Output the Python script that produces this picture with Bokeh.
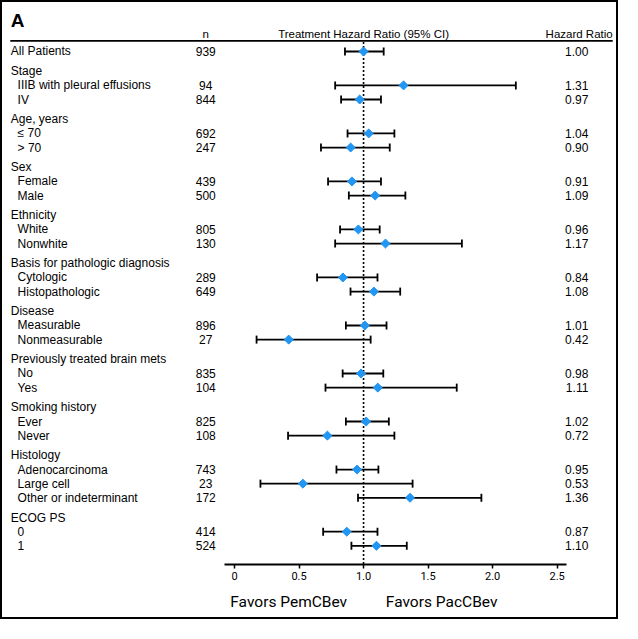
from bokeh.plotting import figure
from bokeh.models import Range1d, LinearAxis, FixedTicker, ColumnDataSource, Whisker, TeeHead
from bokeh.core.properties import value
from bokeh.embed import file_html
from bokeh.resources import INLINE

# ---------------- data ----------------
row_labels = ["All Patients",
              "Stage", "IIIB with pleural effusions", "IV",
              "Age, years", "\u2264 70", "> 70",
              "Sex", "Female", "Male",
              "Ethnicity", "White", "Nonwhite",
              "Basis for pathologic diagnosis", "Cytologic", "Histopathologic",
              "Disease", "Measurable", "Nonmeasurable",
              "Previously treated brain mets", "No", "Yes",
              "Smoking history", "Ever", "Never",
              "Histology", "Adenocarcinoma", "Large cell", "Other or indeterminant",
              "ECOG PS", "0", "1"]
row_is_header = [False,
                 True, False, False,
                 True, False, False,
                 True, False, False,
                 True, False, False,
                 True, False, False,
                 True, False, False,
                 True, False, False,
                 True, False, False,
                 True, False, False, False,
                 True, False, False]
row_n = [939,
         None, 94, 844,
         None, 692, 247,
         None, 439, 500,
         None, 805, 130,
         None, 289, 649,
         None, 896, 27,
         None, 835, 104,
         None, 825, 108,
         None, 743, 23, 172,
         None, 414, 524]
row_hr = [1.00,
          None, 1.31, 0.97,
          None, 1.04, 0.90,
          None, 0.91, 1.09,
          None, 0.96, 1.17,
          None, 0.84, 1.08,
          None, 1.01, 0.42,
          None, 0.98, 1.11,
          None, 1.02, 0.72,
          None, 0.95, 0.53, 1.36,
          None, 0.87, 1.10]
row_lo = [0.856,
          None, 0.78, 0.826,
          None, 0.876, 0.67,
          None, 0.725, 0.886,
          None, 0.818, 0.78,
          None, 0.64, 0.899,
          None, 0.863, 0.171,
          None, 0.838, 0.705,
          None, 0.863, 0.415,
          None, 0.79, 0.201, 0.957,
          None, 0.687, 0.906]
row_hi = [1.156,
          None, 2.18, 1.135,
          None, 1.239, 1.203,
          None, 1.135, 1.324,
          None, 1.125, 1.762,
          None, 1.108, 1.284,
          None, 1.178, 1.055,
          None, 1.153, 1.722,
          None, 1.196, 1.239,
          None, 1.115, 1.38, 1.913,
          None, 1.108, 1.335]
tick_values = [0, 0.5, 1.0, 1.5, 2.0, 2.5]
tick_labels = ["0", "0.5", "1.0", "1.5", "2.0", "2.5"]
favor_positions = [0.42, 1.605]
favor_labels = ["Favors PemCBev", "Favors PacCBev"]
header_n = "n"
header_ci = "Treatment Hazard Ratio (95% CI)"
header_hr = "Hazard Ratio"
panel_letter = "A"

# ---------------- layout ----------------
W, H = 618, 619
REF_W, REF_H = 634, 635
KX = W / REF_W
REF_ZERO, REF_UNIT = 240.0, 132.4          # reference pixel of HR=0 and px per unit
PXU = REF_UNIT * KX
X0 = -((REF_ZERO - 2) * KX) / PXU
X1 = X0 + W / PXU


def xr(ref_px):
    return X0 + ((ref_px - 2) * KX) / PXU


FIRST_Y, ROW_GAP, HEAD_GAP = 52.3, 14.5, 20.3
ys = []
y = FIRST_Y
for i, hdr in enumerate(row_is_header):
    if i > 0:
        y += HEAD_GAP if hdr else ROW_GAP
    ys.append(y)

AXIS_REF_Y = 579.0
FONT = "Liberation Sans"
FS = "12px"
HFS = "11.5px"

p = figure(width=W, height=H, output_backend="svg", toolbar_location=None,
           x_range=Range1d(X0, X1), y_range=Range1d(AXIS_REF_Y, 2),
           x_axis_location=None, y_axis_location=None,
           min_border_left=0, min_border_right=0, min_border_top=0, min_border_bottom=57)
p.grid.visible = False
p.outline_line_color = None
p.background_fill_color = "white"
p.border_fill_color = "white"
p.styles = {"border": "2px solid black"}

# axes
ax = LinearAxis(ticker=FixedTicker(ticks=tick_values),
                major_label_overrides={v: s for v, s in zip(tick_values, tick_labels)})
ax.bounds = (-0.08, 2.57)
ax.axis_line_width = 2
ax.axis_line_color = "black"
ax.major_tick_out = 4
ax.major_tick_in = 0
ax.major_tick_line_width = 1.5
ax.minor_tick_line_color = None
ax.major_label_standoff = 3
ax.major_label_text_font = "Roboto"
ax.major_label_text_font_size = "11px"
ax.major_label_text_color = "black"
p.add_layout(ax, "below")

ax2 = LinearAxis(ticker=FixedTicker(ticks=favor_positions),
                 major_label_overrides={v: s for v, s in zip(favor_positions, favor_labels)})
ax2.axis_line_color = None
ax2.major_tick_line_color = None
ax2.minor_tick_line_color = None
ax2.major_tick_out = 0
ax2.major_tick_in = 0
ax2.major_label_standoff = 10
ax2.major_label_text_font = "Roboto"
ax2.major_label_text_font_size = "15.5px"
ax2.major_label_text_color = "black"
p.add_layout(ax2, "below")

# panel letter and header
p.text(x=[xr(10.5)], y=[20], text=[panel_letter], text_font=value(FONT),
       text_font_style="bold", text_font_size="19px", text_baseline="middle",
       text_align="left", text_color="black")
p.text(x=[xr(210.5)], y=[34], text=[header_n], text_font=value(FONT),
       text_font_size=HFS, text_baseline="middle", text_align="center", text_color="black")
p.text(x=[1.0], y=[34], text=[header_ci], text_font=value(FONT),
       text_font_size=HFS, text_baseline="middle", text_align="center", text_color="black")
p.text(x=[xr(628)], y=[34], text=[header_hr], text_font=value(FONT),
       text_font_size=HFS, text_baseline="middle", text_align="right", text_color="black")
p.segment(x0=[xr(10)], x1=[xr(628)], y0=[41.5], y1=[41.5], line_color="black", line_width=1.8)

# reference line at HR = 1
p.segment(x0=[1.0], x1=[1.0], y0=[42.5], y1=[AXIS_REF_Y], line_color="black",
          line_width=1.6, line_dash="2 2")

# row labels
lab_x = [xr(10.5) if (hdr or i == 0) else xr(17.5) for i, hdr in enumerate(row_is_header)]
p.text(x=lab_x, y=ys, text=row_labels, text_font=value(FONT), text_font_size=FS,
       text_baseline="middle", text_align="left", text_color="black")

# n column and HR column
d_idx = [i for i, v in enumerate(row_n) if v is not None]
p.text(x=[xr(210.5)] * len(d_idx), y=[ys[i] for i in d_idx], text=[str(row_n[i]) for i in d_idx],
       text_font=value(FONT), text_font_size=FS, text_baseline="middle", text_align="center",
       text_color="black")
p.text(x=[xr(603)] * len(d_idx), y=[ys[i] for i in d_idx], text=["%.2f" % row_hr[i] for i in d_idx],
       text_font=value(FONT), text_font_size=FS, text_baseline="middle", text_align="right",
       text_color="black")

# CIs and points
src = ColumnDataSource(dict(y=[ys[i] for i in d_idx], hr=[row_hr[i] for i in d_idx],
                            lo=[row_lo[i] for i in d_idx], hi=[row_hi[i] for i in d_idx]))
wh = Whisker(source=src, base="y", lower="lo", upper="hi", dimension="width",
             line_color="black", line_width=1.8,
             lower_head=TeeHead(size=8, line_width=1.8, line_color="black"),
             upper_head=TeeHead(size=8, line_width=1.8, line_color="black"))
p.add_layout(wh)
p.scatter(x="hr", y="y", source=src, marker="square", angle=0.785398, size=6.4,
          fill_color="#2196F3", line_color="#2196F3")

open("out.html", "w").write(file_html(p, INLINE))
